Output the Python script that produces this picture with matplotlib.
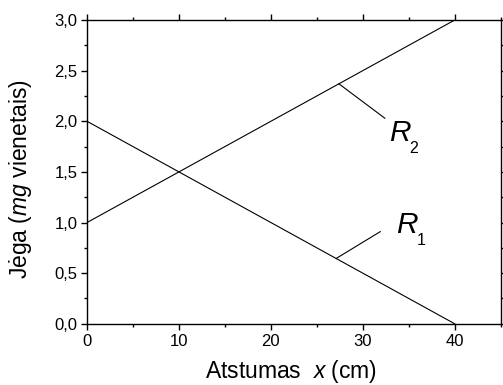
import matplotlib
matplotlib.use("Agg")
import matplotlib.pyplot as plt
from matplotlib.ticker import MultipleLocator, FuncFormatter

plt.rcParams['font.family'] = ['Liberation Sans', 'DejaVu Sans']
plt.rcParams['mathtext.fontset'] = 'custom'
plt.rcParams['mathtext.rm'] = 'Liberation Sans'
plt.rcParams['mathtext.it'] = 'Liberation Sans:italic'

# duomenys
r1_x = [0, 40]
r1_y = [2.0, 0.0]
r2_x = [0, 40]
r2_y = [1.0, 3.0]

# užrašai: raidė, indeksas, taškas ant tiesės, linijos galas, teksto vieta
names = ["R", "R"]
subs = ["2", "1"]
leader_start = [(27.4, 2.37), (27.1, 0.645)]
leader_end = [(32.4, 2.03), (31.9, 0.91)]
text_pos = [(32.9, 1.805), (33.65, 0.896)]

fig = plt.figure(figsize=(5.03, 3.85), dpi=100)
ax = fig.add_axes([0.173, 0.159, 0.8224, 0.789])

ax.plot(r1_x, r1_y, color="black", lw=0.8)
ax.plot(r2_x, r2_y, color="black", lw=0.8)

for nm, sb, s, e, t in zip(names, subs, leader_start, leader_end, text_pos):
    ax.plot([s[0], e[0]], [s[1], e[1]], color="black", lw=0.8)
    ax.text(t[0], t[1], nm, fontsize=21.5, style="italic", ha="left", va="baseline")
    ax.annotate(sb, xy=t, xytext=(14.5, -8.5), textcoords="offset points",
                fontsize=11.5, ha="left", va="baseline")

ax.set_xlim(0, 45)
ax.set_ylim(0, 3.0)
ax.xaxis.set_major_locator(MultipleLocator(10))
ax.xaxis.set_minor_locator(MultipleLocator(5))
ax.yaxis.set_major_locator(MultipleLocator(0.5))
ax.yaxis.set_minor_locator(MultipleLocator(0.25))
ax.yaxis.set_major_formatter(FuncFormatter(lambda v, p: ("%.1f" % v).replace(".", ",")))

ax.tick_params(which="both", direction="out", top=True, right=True,
               labelsize=12, width=1.0, color="black")
ax.tick_params(which="major", length=4, pad=3)
ax.tick_params(which="minor", length=2)
for sp in ax.spines.values():
    sp.set_linewidth(1.0)

ax.set_xlabel(r'Atstumas  $x$ (cm)', fontsize=16.5)
ax.set_ylabel(r'Jėga ($mg$ vienetais)', fontsize=16.5)
ax.xaxis.set_label_coords(0.4927, -0.114)
ax.yaxis.set_label_coords(-0.128, 0.478)

fig.savefig("out.png", dpi=100)
